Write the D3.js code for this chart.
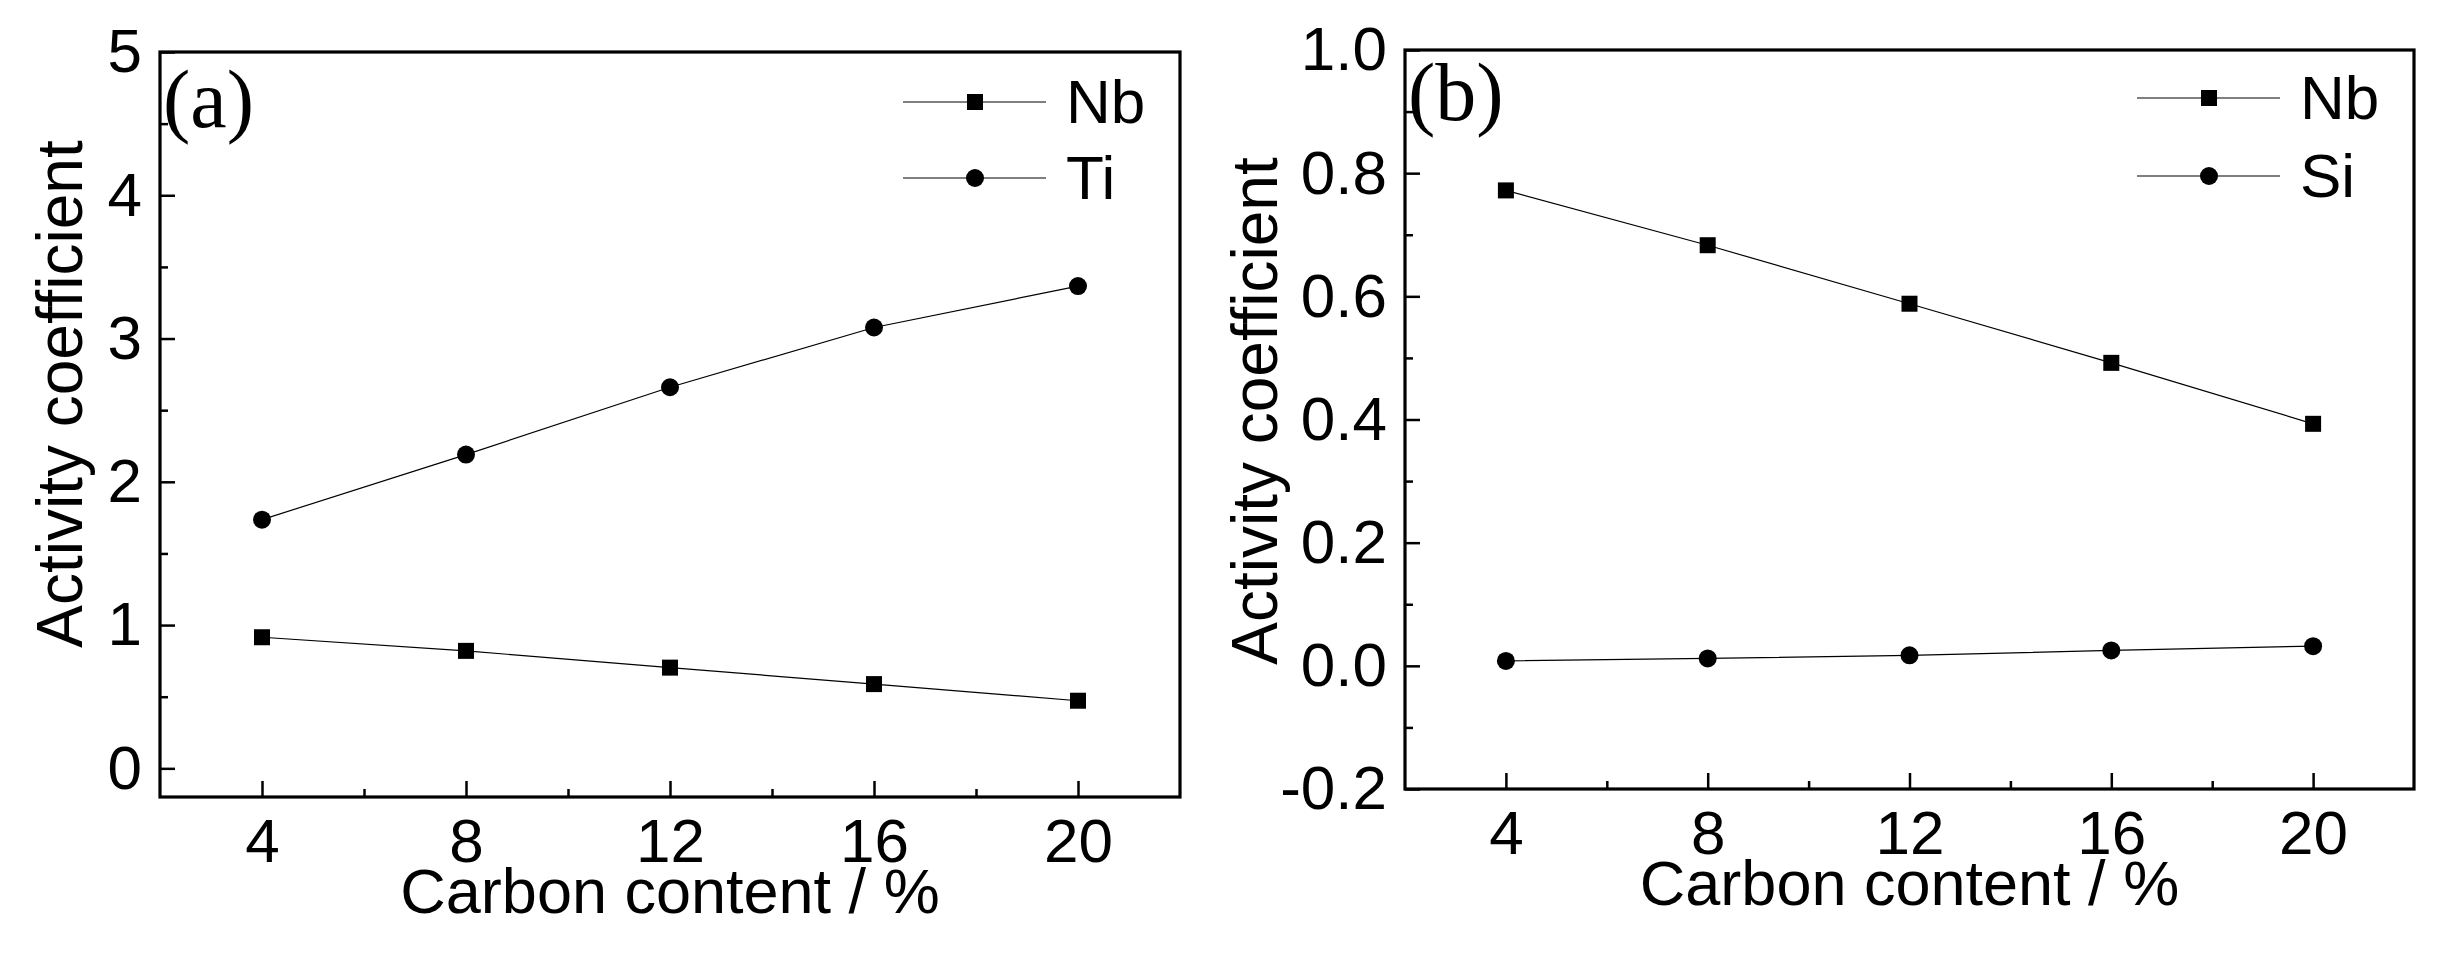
<!DOCTYPE html>
<html>
<head>
<meta charset="utf-8">
<script src="https://cdn.jsdelivr.net/npm/d3@7"></script>
<style>
  body { margin: 0; background: #fff; }
  text { font-family: "Liberation Sans", Arial, sans-serif; fill: #000; }
</style>
</head>
<body>
<div id="chart-area"></div>
<script>
// ---- data ----
var carbon = [4, 8, 12, 16, 20];

var nbA = [0.915, 0.82, 0.703, 0.588, 0.472];
var tiA = [1.736, 2.19, 2.66, 3.077, 3.366];

var nbB = [0.772, 0.683, 0.588, 0.492, 0.393];
var siB = [0.008, 0.012, 0.017, 0.025, 0.032];

var xTicks = [4, 8, 12, 16, 20];
var xMinor = [6, 10, 14, 18];
var yTicksA = [0, 1, 2, 3, 4, 5];
var yMinorA = [0.5, 1.5, 2.5, 3.5, 4.5];
var yTicksB = [-0.2, 0.0, 0.2, 0.4, 0.6, 0.8, 1.0];
var yMinorB = [-0.1, 0.1, 0.3, 0.5, 0.7, 0.9];

var W = 2450, H = 955;

var svg = d3.select("#chart-area").append("svg")
    .attr("width", W)
    .attr("height", H);

// plain hyphen for negatives, like the original figure
var fmt1 = function(d) { return d.toFixed(1); };
var fmt0 = function(d) { return d.toFixed(0); };

var panels = [
    {
        label: "(a)", left: 160, right: 1180, top: 52, bottom: 797,
        yDomain: [-0.2, 5], yTicks: yTicksA, yMinor: yMinorA, yFormat: fmt0,
        series: [{ name: "Nb", values: nbA, shape: "square" }, { name: "Ti", values: tiA, shape: "circle" }],
        titleX: 82, titleY: 394, labelY: 127, legendY: [102, 178]
    },
    {
        label: "(b)", left: 1405, right: 2414, top: 50, bottom: 789,
        yDomain: [-0.2, 1.0], yTicks: yTicksB, yMinor: yMinorB, yFormat: fmt1,
        series: [{ name: "Nb", values: nbB, shape: "square" }, { name: "Si", values: siB, shape: "circle" }],
        titleX: 1277, titleY: 411, labelY: 120, legendY: [98, 176]
    }
];

panels.forEach(function(p) {
    var x = d3.scaleLinear().domain([2, 22]).range([p.left, p.right]);
    var y = d3.scaleLinear().domain(p.yDomain).range([p.bottom, p.top]);

    // minor ticks
    svg.append("g")
        .attr("transform", "translate(0 " + p.bottom + ")")
        .call(d3.axisBottom(x).tickValues(xMinor).tickSize(-8).tickFormat(""))
        .call(function(g) { g.select(".domain").remove(); })
        .selectAll("line").attr("stroke-width", 2.5);
    svg.append("g")
        .attr("transform", "translate(" + p.left + " 0)")
        .call(d3.axisLeft(y).tickValues(p.yMinor).tickSize(-8).tickFormat(""))
        .call(function(g) { g.select(".domain").remove(); })
        .selectAll("line").attr("stroke-width", 2.5);

    // major ticks + labels
    var xa = svg.append("g")
        .attr("transform", "translate(0 " + p.bottom + ")")
        .call(d3.axisBottom(x).tickValues(xTicks).tickSize(-16).tickPadding(21));
    xa.select(".domain").remove();
    xa.selectAll("line").attr("stroke-width", 2.5);
    xa.selectAll("text")
        .style("font-family", "'Liberation Sans', Arial, sans-serif")
        .attr("font-size", 62);

    var ya = svg.append("g")
        .attr("transform", "translate(" + p.left + " 0)")
        .call(d3.axisLeft(y).tickValues(p.yTicks).tickSize(-15).tickPadding(18).tickFormat(p.yFormat));
    ya.select(".domain").remove();
    ya.selectAll("line").attr("stroke-width", 2.5);
    ya.selectAll("text")
        .style("font-family", "'Liberation Sans', Arial, sans-serif")
        .attr("font-size", 62);

    // frame
    svg.append("rect")
        .attr("x", p.left)
        .attr("y", p.top)
        .attr("width", p.right - p.left)
        .attr("height", p.bottom - p.top)
        .attr("fill", "none")
        .attr("stroke", "#000")
        .attr("stroke-width", 3.2);

    // axis titles
    svg.append("text")
        .attr("x", (p.left + p.right) / 2)
        .attr("y", p.bottom + 116)
        .attr("text-anchor", "middle")
        .attr("font-size", 63)
        .text("Carbon content / %");

    svg.append("text")
        .attr("transform", "translate(" + p.titleX + " " + p.titleY + ") rotate(-90)")
        .attr("text-anchor", "middle")
        .attr("font-size", 64)
        .text("Activity coefficient");

    // panel label
    svg.append("text")
        .attr("x", p.left + 3)
        .attr("y", p.labelY)
        .style("font-family", "'Liberation Serif', 'Times New Roman', serif")
        .attr("font-size", 82)
        .text(p.label);

    // series
    var line = d3.line()
        .x(function(d, i) { return x(carbon[i]); })
        .y(function(d) { return y(d); });

    p.series.forEach(function(s, k) {
        svg.append("path")
            .datum(s.values)
            .attr("d", line)
            .attr("fill", "none")
            .attr("stroke", "#000")
            .attr("stroke-width", 1.2);

        drawMarkers(s.shape, s.values.map(function(v, i) { return [x(carbon[i]), y(v)]; }));

        // legend
        var ly = p.legendY[k];
        svg.append("line")
            .attr("x1", p.right - 277)
            .attr("x2", p.right - 134)
            .attr("y1", ly)
            .attr("y2", ly)
            .attr("stroke", "#000")
            .attr("stroke-width", 1.2);
        drawMarkers(s.shape, [[p.right - 205, ly]]);
        svg.append("text")
            .attr("x", p.right - 114)
            .attr("y", ly + 21)
            .attr("font-size", 62)
            .text(s.name);
    });
});

function drawMarkers(shape, pts) {
    if (shape === "square") {
        svg.selectAll(null)
            .data(pts).enter()
            .append("rect")
                .attr("x", function(d) { return d[0] - 8; })
                .attr("y", function(d) { return d[1] - 8; })
                .attr("width", 16)
                .attr("height", 16)
                .attr("fill", "#000");
    } else {
        svg.selectAll(null)
            .data(pts).enter()
            .append("circle")
                .attr("cx", function(d) { return d[0]; })
                .attr("cy", function(d) { return d[1]; })
                .attr("r", 9)
                .attr("fill", "#000");
    }
}
</script>
</body>
</html>
